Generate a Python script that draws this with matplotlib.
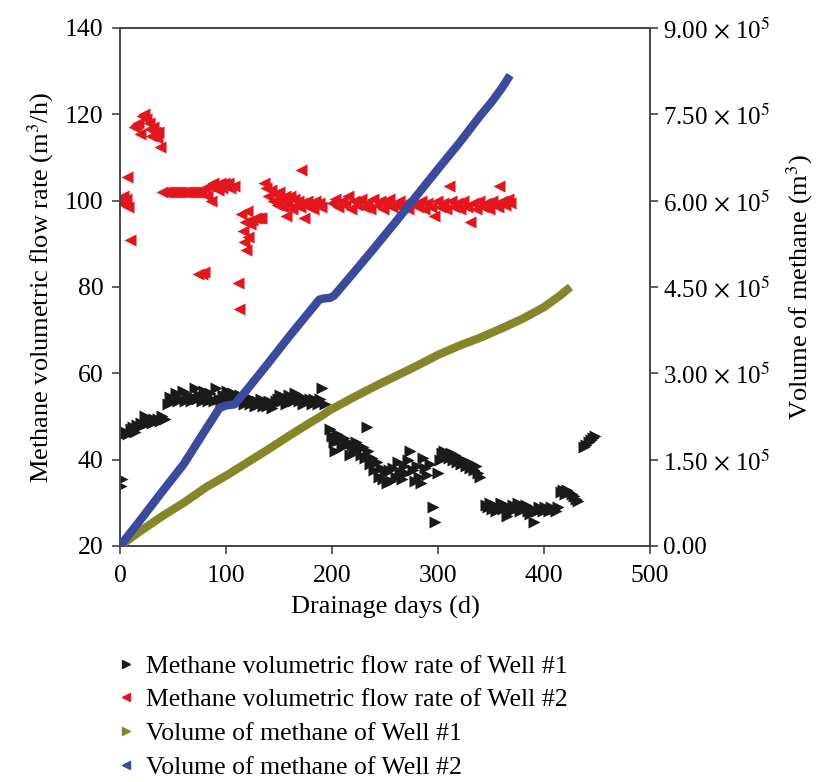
import matplotlib
matplotlib.use("Agg")
import matplotlib.pyplot as plt
from matplotlib.lines import Line2D

plt.rcParams["font.family"] = ["Liberation Serif", "DejaVu Serif"]
plt.rcParams["mathtext.fontset"] = "stix"

# Well #1 flow rate (m3/h) vs drainage days
w1_days = [1, 2,
           4, 6, 8, 10, 12, 14, 16, 18, 20, 22, 24, 26, 28, 30, 32, 34, 36, 38, 40, 42,
           45, 47, 49, 51, 53, 55, 57, 59, 61, 63, 65, 67, 69, 71, 73, 75, 77, 79, 81, 83,
           85, 87, 89, 91, 93, 95, 97, 99, 101, 103, 105, 107, 109, 111, 113, 115, 117, 119,
           121, 123, 125, 127, 129, 131, 133, 135, 137, 139, 141, 143, 145, 147, 149, 151,
           153, 155, 157, 159, 161, 163, 165, 167, 169, 171, 173, 175, 177, 179, 181, 183,
           185, 187, 189, 191, 193,
           198, 200, 202, 203, 205, 207, 209, 211, 213, 215, 217, 219, 221, 223, 225, 227,
           229, 231, 233, 234, 236, 238, 240, 242, 244, 246, 248, 250, 252, 254, 256, 258,
           260, 262, 264, 266, 268, 270, 272, 274, 276, 278, 280, 282, 284, 286, 288, 290,
           292, 295, 297, 300, 302, 304, 306, 308, 310, 312, 314, 316, 318, 320, 322, 324,
           326, 328, 330, 332, 334, 336, 338, 340,
           345, 347, 349, 351, 353, 355, 357, 359, 361, 363, 365, 367, 369, 371, 373, 375,
           377, 379, 381, 383, 385, 387, 389, 391, 393, 395, 397, 399, 401, 403, 405, 407,
           409, 411, 413,
           416, 418, 420, 422, 424, 426, 428, 430, 432,
           438, 440, 442, 444, 446, 448]
w1_rate = [34, 35.5,
           46, 46.5, 46, 47, 47.5, 46.5, 48, 47.5, 48.5, 48, 50, 48.5, 49, 48.5, 49.5, 49, 49.5, 49, 50, 49.5,
           53, 54.5, 53.5, 54, 55.5, 53.5, 54, 56, 53.5, 54.5, 55, 53.5, 54, 56.5, 54, 55, 53.5, 56, 54.5, 53.5,
           55.5, 54, 53.5, 56.5, 54, 53.5, 55, 54, 56, 53.5, 54.5, 55.5, 54, 53.5, 55, 54, 53, 54.5,
           53.5, 53, 54, 52.5, 53.5, 53, 54, 52.5, 53, 52.5, 53.5, 52, 53, 53.5, 54, 55,
           53.5, 54.5, 53, 55, 54, 53.5, 55.5, 54, 53.5, 54.5, 53, 54, 53.5, 54, 53, 54,
           53.5, 53, 54, 56.5, 53,
           47, 45.5, 44, 42, 46, 44.5, 43, 45, 43.5, 44, 41, 43.5, 42, 44, 42.5, 41,
           43, 40.5, 47.5, 42, 39, 40.5, 37.5, 39.5, 36, 38, 35.5, 37, 34.5, 37.5, 35, 38,
           36, 39.5, 37, 35.5, 38.5, 37, 40, 42, 37.5, 35, 38.5, 36, 34.5, 40.5, 38, 36.5,
           39, 29, 25.5, 37, 40, 41.5, 42, 41, 40.5, 41.5, 40, 41, 39.5, 40.5, 39, 40,
           38.5, 39.5, 38, 39, 37.5, 38.5, 37, 36,
           29.5, 29, 30, 28.5, 29.5, 28, 29, 30, 28.5, 29.5, 27, 29, 28, 29.5, 28.5, 30,
           28, 29, 28.5, 29.5, 28, 27.5, 28.5, 25.5, 28, 29, 28.5, 28, 29, 28.5, 28, 29,
           28.5, 28, 29,
           32.5, 33, 32, 33, 32.5, 32, 31.5, 31, 30.5,
           43, 43.5, 44, 44.5, 45, 45.5]

# Well #2 flow rate (m3/h) vs drainage days
w2_days = [1, 2, 3, 4, 5, 6, 7, 8, 9,
           13, 15, 17, 19, 21, 23, 25, 27, 28, 29, 31, 33, 35, 36, 38,
           40, 42, 44, 46, 48, 50, 52, 54, 56, 58, 60, 62, 64, 66, 68, 70, 72, 74, 76,
           74, 77, 79,
           80, 82, 84, 86, 88, 90, 92, 94, 96, 98, 100, 102, 104,
           108, 111, 112, 114, 116, 117, 118, 119, 120, 121, 123, 125, 127, 129, 131, 133,
           136, 138, 140, 142, 144, 146, 148, 150, 152, 154, 156, 157, 158, 160, 162, 164,
           166, 168, 170, 171, 172, 174, 176, 178, 180, 182, 184, 186, 188, 190,
           200, 203, 206, 209, 212, 215, 218, 221, 224, 227, 230, 233, 236, 239, 242, 245,
           248, 251, 254, 257, 260, 263, 266, 269, 272, 275, 278, 281, 284, 287, 290, 293,
           296, 299, 302, 305, 308, 310, 312, 315, 318, 321, 324, 327, 330, 333, 336, 339,
           342, 345, 348, 351, 354, 357, 358, 360, 363, 366, 368]
w2_rate = [100.5, 99.5, 101, 100, 99, 100.5, 105.5, 98.5, 91,
           117, 117.5, 118, 115.5, 119.5, 120, 119, 118, 116.5, 115, 117, 116, 114.5, 116, 112.5,
           102, 102, 102, 102, 102, 102, 102, 102, 102, 102, 102, 102, 102, 102, 102, 102, 102, 102, 102.5,
           83, 83, 83.5,
           103, 101, 103.5, 100, 104, 103, 102.5, 104, 103, 104, 103.5, 104, 103,
           103.5, 81, 75, 97, 93, 90.5, 95, 88.5, 97.5, 91.5, 94.5, 95.5, 96, 96, 96, 96,
           104, 103, 101, 102.5, 100, 101.5, 99, 102, 100.5, 98.5, 101, 96.5, 99.5, 101, 98, 100.5,
           99, 100, 98.5, 107, 99.5, 96, 100, 98.5, 99.5, 98, 100, 99, 99.5, 98.5,
           99.5, 100.5, 98.5, 100, 99, 101, 98, 100, 99, 100.5, 98.5, 99.5, 98, 100.5, 99, 100,
           98, 99.5, 100.5, 98.5, 99, 100, 98.5, 99.5, 98, 100, 99, 98.5, 100, 98, 99.5, 98.5,
           96.5, 100, 98.5, 99.5, 98, 103.5, 100, 98.5, 99.5, 98, 100, 98.5, 95, 99.5, 98, 100,
           98.5, 99.5, 98, 100, 99, 98.5, 103.5, 100, 99, 100.5, 99.5]

# Cumulative volume of methane (m3)
v1_days = [0, 20, 40, 60, 82, 100, 120, 140, 160, 180, 190, 198, 220, 240, 260, 280,
           300, 320, 340, 360, 380, 400, 415, 425]
v1_vol = [0, 27e3, 52e3, 75e3, 103e3, 122e3, 145e3, 168e3, 192e3, 215e3, 226e3, 236e3,
          258e3, 277e3, 295e3, 313e3, 332e3, 348e3, 362e3, 378e3, 395e3, 415e3, 435e3, 450e3]
v2_days = [0, 20, 40, 60, 80, 94, 100, 108, 120, 140, 160, 180, 188, 192, 198, 202, 220,
           240, 260, 280, 300, 320, 340, 350, 360, 368]
v2_vol = [0, 47e3, 95e3, 142e3, 200e3, 240e3, 244e3, 246e3, 272e3, 318e3, 365e3, 410e3,
          428e3, 430e3, 431e3, 435e3, 474e3, 518e3, 563e3, 609e3, 655e3, 700e3, 748e3,
          770e3, 795e3, 818e3]

LABELS = ["Methane volumetric flow rate of Well #1",
          "Methane volumetric flow rate of Well #2",
          "Volume of methane of Well #1",
          "Volume of methane of Well #2"]
C_BLACK, C_RED, C_OLIVE, C_BLUE = "#1a1a1a", "#e3161d", "#85862a", "#3b4a9c"
FS = 19

fig = plt.figure(figsize=(8.31, 7.82), dpi=100)
ax = fig.add_axes([0.1444, 0.3018, 0.6378, 0.6624])
ax2 = ax.twinx()

ax.scatter(w1_days, w1_rate, marker=">", s=75, color=C_BLACK, linewidths=0, zorder=2)
ax.scatter(w2_days, w2_rate, marker="<", s=75, color=C_RED, linewidths=0, zorder=2)
ax2.plot(v1_days, v1_vol, color=C_OLIVE, lw=6, solid_capstyle="butt", zorder=3)
ax2.plot(v2_days, v2_vol, color=C_BLUE, lw=6, solid_capstyle="butt", zorder=3)
ax.set_zorder(2)
ax.patch.set_visible(False)
ax2.set_zorder(3)

ax.set_xlim(0, 500)
ax.set_ylim(20, 140)
ax.set_xticks(range(0, 501, 100))
ax.set_yticks(range(20, 141, 20))
ax2.set_ylim(0, 9e5)
r_ticks = [0, 1.5e5, 3e5, 4.5e5, 6e5, 7.5e5, 9e5]
ax2.set_yticks(r_ticks)
ax2.set_yticklabels(["0.00"] + [r"%.2f $\times$ 10$^5$" % (t / 1e5) for t in r_ticks[1:]])

for a in (ax, ax2):
    for sp in a.spines.values():
        sp.set_color("#444444")
        sp.set_linewidth(1.2)
ax.tick_params(direction="out", length=6, width=1.2, labelsize=18.5, color="#444444")
ax.tick_params(axis="x", pad=8)
ax.tick_params(axis="y", pad=6)
ax2.tick_params(direction="out", length=6, width=1.2, labelsize=18, color="#444444")

ax.set_xlabel("Drainage days (d)", fontsize=FS, labelpad=6)
ax.set_ylabel("Methane volumetric flow rate (m$^3$/h)", fontsize=FS, labelpad=6)
ax2.set_ylabel("Volume of methane (m$^3$)", fontsize=FS, labelpad=10)

handles = [Line2D([], [], ls="none", marker=">", ms=6, color=C_BLACK),
           Line2D([], [], ls="none", marker="<", ms=6, color=C_RED),
           Line2D([], [], ls="none", marker=">", ms=6, color=C_OLIVE),
           Line2D([], [], ls="none", marker="<", ms=6, color=C_BLUE)]
fig.legend(handles, LABELS, loc="upper left", bbox_to_anchor=(0.136, 0.163),
           frameon=False, fontsize=18.5, handlelength=1.0, handletextpad=0.3,
           labelspacing=0.42, borderaxespad=0, borderpad=0)

fig.savefig("out.png", dpi=100)
